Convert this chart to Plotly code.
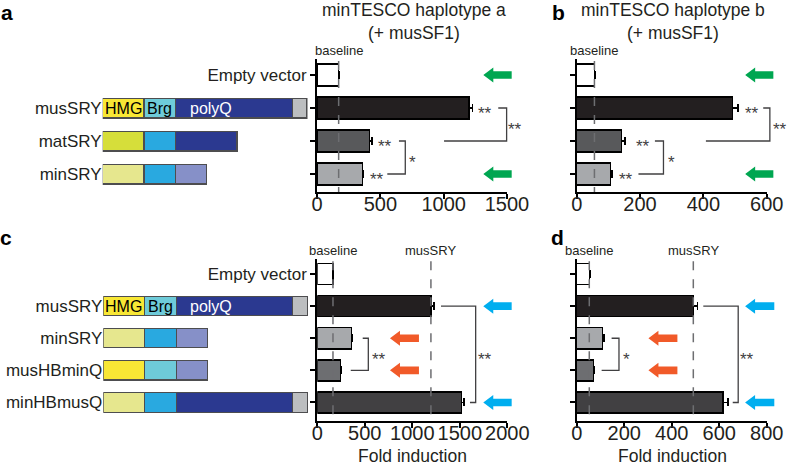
import plotly.graph_objects as go

W, H = 787, 467
FONT = "Liberation Sans, Arial, sans-serif"

# ---- data: panels a and b (minTESCO haplotype a / b)
ab_rows = ["Empty vector", "musSRY", "matSRY", "minSRY"]
a_fold = [171, 1200, 416, 358]
a_err = [4, 27, 20, 10]
b_fold = [56, 492, 142, 107]
b_err = [2, 18, 11, 5]
ab_colors = ["white", "#231f20", "#58595b", "#a7a9ac"]

# ---- data: panels c and d
cd_rows = ["Empty vector", "musSRY", "minSRY", "musHBminQ", "minHBmusQ"]
c_fold = [165, 1196, 358, 246, 1519]
c_err = [5, 35, 14, 10, 25]
d_fold = [53, 491, 109, 70, 615]
d_err = [2, 17, 6, 4, 21]
cd_colors = ["white", "#231f20", "#a7a9ac", "#6d6e71", "#414042"]

# ---- protein domain diagrams (segment lengths, arbitrary units)
ab_hmg = [None, 41.3, 41.3, 41.3]
ab_brg = [None, 31.7, 31.7, 31.7]
ab_polyq = [None, 116.6, 61.3, 31.0]
ab_tail = [None, 14.7, None, None]
ab_hmg_col = ["white", "#f8e735", "#d6de3a", "#e6e78e"]
ab_brg_col = ["white", "#6ecbd9", "#29a9e0", "#29a9e0"]
ab_q_col = ["white", "#2b3990", "#2b3990", "#8690c8"]

cd_hmg = [None, 41.3, 41.3, 41.3, 41.3]
cd_brg = [None, 31.7, 31.7, 31.7, 31.7]
cd_polyq = [None, 116.6, 31.0, 31.0, 116.6]
cd_tail = [None, 14.7, None, None, 14.7]
cd_hmg_col = ["white", "#f8e735", "#e6e78e", "#f8e735", "#e6e78e"]
cd_brg_col = ["white", "#6ecbd9", "#29a9e0", "#6ecbd9", "#29a9e0"]
cd_q_col = ["white", "#2b3990", "#8690c8", "#8690c8", "#2b3990"]
tail_col = "#bcbec0"

# pixel geometry of the four bar charts
PAN = {
    "a": dict(x0=317, x1=507, xmax=1500, y0=59, y1=192, r0=-0.485, r1=3.545),
    "b": dict(x0=576.7, x1=766.7, xmax=600, y0=59, y1=192, r0=-0.485, r1=3.545),
    "c": dict(x0=317.3, x1=507.3, xmax=2000, y0=259.3, y1=420.7, r0=-0.458, r1=4.567),
    "d": dict(x0=576.7, x1=766.7, xmax=800, y0=259.3, y1=420.7, r0=-0.458, r1=4.567),
}


def fx(x):
    return x / W


def fy(y):
    return 1 - y / H


def xpix(p, v):
    g = PAN[p]
    return g["x0"] + v / g["xmax"] * (g["x1"] - g["x0"])


def ypix(p, i):
    g = PAN[p]
    return g["y0"] + (i - g["r0"]) / (g["r1"] - g["r0"]) * (g["y1"] - g["y0"])


fig = go.Figure()


def fold_bar(rows, vals, errs, colors, xa, ya):
    fig.add_trace(go.Bar(
        y=rows, x=vals, orientation="h", xaxis=xa, yaxis=ya, width=0.66,
        marker=dict(color=colors, line=dict(color="black", width=1.5)),
        error_x=dict(type="data", array=errs, arrayminus=[0] * len(errs), symmetric=False,
                     color="black", thickness=1.5, width=4),
        showlegend=False, hoverinfo="skip"))


fold_bar(ab_rows, a_fold, a_err, ab_colors, "x", "y")
fold_bar(ab_rows, b_fold, b_err, ab_colors, "x2", "y2")
fold_bar(cd_rows, c_fold, c_err, cd_colors, "x3", "y3")
fold_bar(cd_rows, d_fold, d_err, cd_colors, "x4", "y4")

# domain diagrams as stacked bars
for rows, segs, xa, ya in [
    (ab_rows, [(ab_hmg, ab_hmg_col), (ab_brg, ab_brg_col), (ab_polyq, ab_q_col), (ab_tail, tail_col)], "x5", "y5"),
    (cd_rows, [(cd_hmg, cd_hmg_col), (cd_brg, cd_brg_col), (cd_polyq, cd_q_col), (cd_tail, tail_col)], "x6", "y6"),
]:
    for seg, col in segs:
        fig.add_trace(go.Bar(
            y=rows, x=seg, orientation="h", xaxis=xa, yaxis=ya, width=0.6,
            marker=dict(color=col, line=dict(color="#4d4d4f", width=1.2)),
            showlegend=False, hoverinfo="skip"))

axis_font = dict(family=FONT, size=20, color="#231f20")
label_font = dict(family=FONT, size=17, color="#231f20")


def chart_axes(p, n, rows, dtick, show_empty):
    g = PAN[p]
    sfx = "" if n == 1 else str(n)
    xa = dict(domain=[fx(g["x0"]), fx(g["x1"])], range=[0, g["xmax"]], dtick=dtick,
              showline=True, linecolor="black", linewidth=2, ticks="outside", ticklen=5,
              tickwidth=1.5, tickcolor="black", showgrid=False, zeroline=False,
              tickfont=axis_font, ticklabelstandoff=-12, anchor="y" + sfx,
              fixedrange=True, automargin=False)
    ya = dict(domain=[fy(g["y1"]), fy(g["y0"])], type="category", categoryorder="array",
              categoryarray=rows, range=[g["r1"], g["r0"]], showline=True, linecolor="black",
              linewidth=2, ticks="outside", ticklen=5, tickwidth=1.5, tickcolor="black",
              showgrid=False, zeroline=False, anchor="x" + sfx, tickfont=label_font,
              tickmode="array", tickvals=rows,
              ticktext=[rows[0]] + [""] * (len(rows) - 1) if show_empty else [""] * len(rows),
              fixedrange=True, automargin=False)
    fig.layout["xaxis" + sfx] = xa
    fig.layout["yaxis" + sfx] = ya


chart_axes("a", 1, ab_rows, 500, True)
chart_axes("b", 2, ab_rows, 200, False)
chart_axes("c", 3, cd_rows, 500, True)
chart_axes("d", 4, cd_rows, 200, False)


def diagram_axes(n, p, rows, left, right):
    g = PAN[p]
    fig.layout["xaxis" + str(n)] = dict(domain=[fx(left), fx(right)], range=[0, 204.8],
                                        visible=False, anchor="y" + str(n), fixedrange=True,
                                        automargin=False)
    fig.layout["yaxis" + str(n)] = dict(domain=[fy(g["y1"]), fy(g["y0"])], type="category",
                                        categoryorder="array", categoryarray=rows,
                                        range=[g["r1"], g["r0"]], showline=False, ticks="",
                                        showgrid=False, zeroline=False, tickfont=label_font,
                                        tickmode="array", tickvals=rows,
                                        ticktext=[""] + rows[1:], anchor="x" + str(n),
                                        fixedrange=True, automargin=False)


diagram_axes(5, "a", ab_rows, 102.7, 307.5)
diagram_axes(6, "c", cd_rows, 103.3, 308.0)

shapes = []
annots = []


def text(x, y, s, size=13, color="#231f20", bold=False, xanchor="center"):
    annots.append(dict(x=fx(x), y=fy(y), xref="paper", yref="paper", text=s, showarrow=False,
                       xanchor=xanchor, yanchor="middle",
                       font=dict(family=FONT, size=size, color=color,
                                 weight="bold" if bold else "normal")))


def vline(p, v, label):
    g = PAN[p]
    x = xpix(p, v)
    shapes.append(dict(type="line", xref="paper", yref="paper", x0=fx(x), x1=fx(x),
                       y0=fy(g["y0"] + 2), y1=fy(g["y1"]),
                       line=dict(color="#6d6e71", width=1.5, dash="dash")))
    text(x, g["y0"] - 9, label)


def stars(p, v, row, s):
    text(xpix(p, v), ypix(p, row) + 5, s, size=17, color="#414042")


def bracket(p, r_top, r_bot, top_start, bot_start, vert):
    xs, xb, xv = xpix(p, top_start), xpix(p, bot_start), xpix(p, vert)
    yt, yb = ypix(p, r_top), ypix(p, r_bot)
    path = "M{},{} L{},{} L{},{} L{},{}".format(fx(xs), fy(yt), fx(xv), fy(yt),
                                               fx(xv), fy(yb), fx(xb), fy(yb))
    shapes.append(dict(type="path", xref="paper", yref="paper", path=path,
                       line=dict(color="#414042", width=1.3)))


def arrow(p, row, v_tip, v_tail, color):
    xt, xe = xpix(p, v_tip), xpix(p, v_tail)
    yc = ypix(p, row)
    xh = xt + 10
    pts = [(xt, yc), (xh, yc - 7.5), (xh, yc - 3.8), (xe, yc - 3.8),
           (xe, yc + 3.8), (xh, yc + 3.8), (xh, yc + 7.5)]
    path = "M" + " L".join("{},{}".format(fx(a), fy(b)) for a, b in pts) + " Z"
    shapes.append(dict(type="path", xref="paper", yref="paper", path=path,
                       fillcolor=color, line=dict(width=0)))


GREEN, ORANGE, BLUE = "#00a651", "#f15a29", "#00aeef"

# panel a
vline("a", a_fold[0], "baseline")
stars("a", 1330, 1, "**")
bracket("a", 1, 2, 1431, 1003, 1497)
stars("a", 1563, 1.5, "**")
stars("a", 537, 2, "**")
bracket("a", 2, 3, 647, 555, 697)
stars("a", 752, 2.5, "*")
stars("a", 471, 3, "**")
arrow("a", 0, 1313, 1537, GREEN)
arrow("a", 3, 1313, 1537, GREEN)

# panel b
vline("b", b_fold[0], "baseline")
stars("b", 553, 1, "**")
bracket("b", 1, 2, 589, 408, 610)
stars("b", 642, 1.5, "**")
stars("b", 208, 2, "**")
bracket("b", 2, 3, 247, 195, 274)
stars("b", 300, 2.5, "*")
stars("b", 156, 3, "**")
arrow("b", 0, 532, 621, GREEN)
arrow("b", 3, 532, 621, GREEN)

# panel c
vline("c", c_fold[0], "baseline")
vline("c", c_fold[1], "musSRY")
bracket("c", 1, 4, 1302, 1607, 1667)
stars("c", 1765, 2.5, "**")
bracket("c", 2, 3, 478, 352, 537)
stars("c", 650, 2.5, "**")
arrow("c", 2, 765, 1070, ORANGE)
arrow("c", 3, 765, 1070, ORANGE)
arrow("c", 1, 1747, 2046, BLUE)
arrow("c", 4, 1747, 2046, BLUE)

# panel d
vline("d", d_fold[0], "baseline")
vline("d", d_fold[1], "musSRY")
bracket("d", 1, 4, 533, 657, 680)
stars("d", 718, 2.5, "**")
bracket("d", 2, 3, 147, 105, 178)
stars("d", 208, 2.5, "*")
arrow("d", 2, 302, 424, ORANGE)
arrow("d", 3, 302, 424, ORANGE)
arrow("d", 1, 709, 832, BLUE)
arrow("d", 4, 709, 832, BLUE)

# domain labels inside the musSRY diagrams
for p, left in [("a", 102.7), ("c", 103.3)]:
    unit = (307.5 - 102.7) / 204.8
    y = ypix(p, 1)
    text(left + ab_hmg[1] / 2 * unit, y, "HMG", size=16, color="black")
    text(left + (ab_hmg[1] + ab_brg[1] / 2) * unit, y, "Brg", size=16, color="black")
    text(left + (ab_hmg[1] + ab_brg[1]) * unit + 12, y, "polyQ", size=16, color="white",
         xanchor="left")

# titles and panel letters
text(413.7, 21, "minTESCO haplotype a<br>(+ musSF1)", size=17.5)
text(672.8, 21, "minTESCO haplotype b<br>(+ musSF1)", size=17.5)
text(412, 456, "Fold induction", size=17.5)
text(672, 456, "Fold induction", size=17.5)
text(7, 13, "a", size=21, color="black", bold=True)
text(558, 13, "b", size=21, color="black", bold=True)
text(6, 238, "c", size=21, color="black", bold=True)
text(557, 238, "d", size=21, color="black", bold=True)

fig.update_layout(
    width=W, height=H, margin=dict(l=0, r=0, t=0, b=0),
    paper_bgcolor="white", plot_bgcolor="white", barmode="stack",
    font=dict(family=FONT, color="#231f20"),
    shapes=shapes, annotations=annots, showlegend=False,
)

# drop the browser's default page margin so the figure sits at the window origin
fig.write_html("out.html", config={"displayModeBar": False},
               post_script="document.body.style.margin = '0';")
